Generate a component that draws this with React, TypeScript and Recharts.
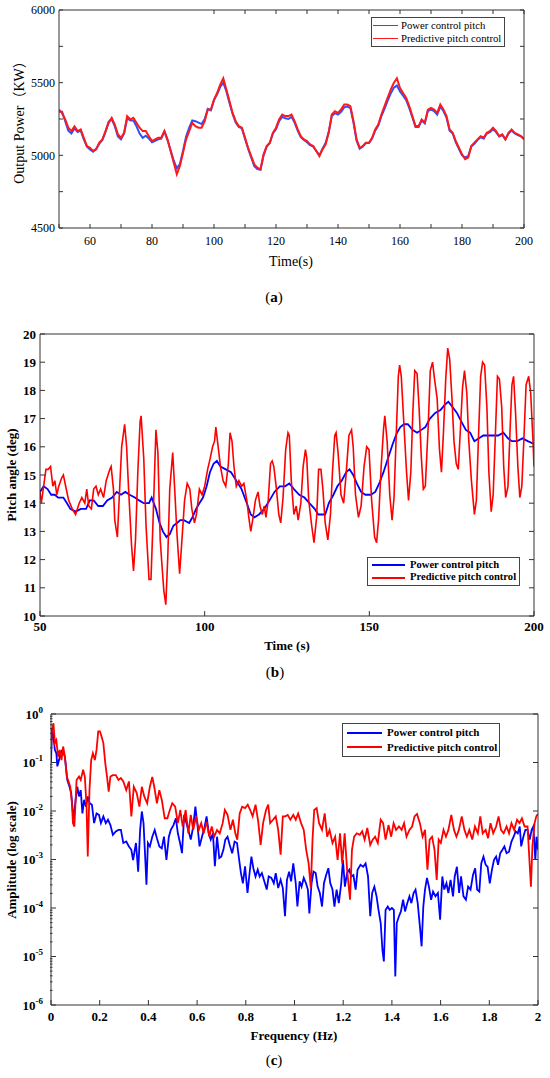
import { CSSProperties, ReactNode } from 'react'
import { Legend, Line, LineChart, XAxis, YAxis } from 'recharts'

// ---- (a) output power ----
const timeA = Array.from({ length: 151 }, (_, i) => 50 + i)
const powerRed = [
  5315, 5290, 5247, 5190, 5167, 5200, 5167, 5178, 5120, 5064,
  5052, 5030, 5041, 5087, 5110, 5167, 5224, 5258, 5212, 5144,
  5121, 5155, 5270, 5247, 5258, 5224, 5190, 5167, 5167, 5132,
  5098, 5110, 5121, 5121, 5167, 5110, 5030, 4950, 4870, 4927,
  5018, 5110, 5167, 5224, 5201, 5190, 5190, 5235, 5315, 5315,
  5384, 5429, 5486, 5530, 5452, 5372, 5292, 5235, 5201, 5190,
  5121, 5052, 4995, 4938, 4915, 4904, 5007, 5064, 5087, 5155,
  5190, 5247, 5281, 5270, 5270, 5281, 5235, 5178, 5132, 5110,
  5098, 5075, 5064, 5030, 4995, 5041, 5075, 5155, 5281, 5304,
  5292, 5315, 5349, 5349, 5338, 5235, 5110, 5052, 5064, 5087,
  5087, 5121, 5178, 5212, 5281, 5338, 5395, 5452, 5498, 5530,
  5463, 5429, 5395, 5338, 5270, 5201, 5201, 5247, 5224, 5315,
  5326, 5315, 5292, 5349, 5315, 5270, 5178, 5155, 5098, 5052,
  5007, 4973, 4984, 5064, 5087, 5110, 5132, 5121, 5155, 5167,
  5190, 5167, 5132, 5144, 5110, 5155, 5178, 5155, 5144, 5132,
  5110,
]
const powerBlue = [
  5300, 5300, 5235, 5170, 5150, 5185, 5160, 5170, 5110, 5060,
  5040, 5025, 5045, 5080, 5105, 5160, 5230, 5250, 5200, 5130,
  5110, 5150, 5255, 5240, 5240, 5200, 5150, 5120, 5135, 5115,
  5090, 5100, 5110, 5115, 5165, 5105, 5035, 4965, 4910, 4940,
  5030, 5130, 5190, 5240, 5235, 5225, 5215, 5250, 5320, 5310,
  5380, 5420, 5470, 5500, 5440, 5360, 5285, 5225, 5195, 5185,
  5115, 5045, 4985, 4925, 4905, 4900, 5000, 5060, 5085, 5150,
  5180, 5235, 5265, 5255, 5250, 5265, 5225, 5170, 5125, 5105,
  5090, 5070, 5060, 5030, 5000, 5045, 5085, 5160, 5270, 5290,
  5280, 5300, 5330, 5335, 5325, 5225, 5100, 5045, 5060, 5085,
  5085, 5115, 5170, 5205, 5270, 5320, 5375, 5425, 5465, 5480,
  5440, 5410, 5380, 5325, 5260, 5195, 5195, 5240, 5220, 5305,
  5315, 5305, 5280, 5335, 5305, 5260, 5170, 5150, 5090, 5045,
  5000, 4985, 4995, 5060, 5080, 5105, 5125, 5115, 5150, 5160,
  5180, 5160, 5130, 5140, 5110, 5150, 5170, 5150, 5140, 5130,
  5115,
]
const ticksAX = [50, 60, 70, 80, 90, 100, 110, 120, 130, 140, 150, 160, 170, 180, 190, 200]
const ticksAY = [4500, 4750, 5000, 5250, 5500, 5750, 6000]

// ---- (b) pitch angle ----
const pitchRedT = [
  50, 50.4, 51.1, 51.8, 52.5, 53.2, 53.9, 54.5, 55.1, 55.7,
  56.6, 57.1, 57.8, 58.7, 59.8, 60.8, 61.9, 62.7, 63.6, 64.2,
  64.8, 65.6, 66.3, 67.0, 67.7, 68.4, 69.3, 70.1, 71.2, 71.6,
  72.3, 72.7, 73.5, 74.3, 74.8, 75.7, 76.3, 76.9, 77.8, 78.4,
  79.0, 79.7, 80.4, 80.7, 81.5, 82.2, 83.1, 83.7, 84.3, 85.2,
  85.8, 86.5, 87.1, 87.6, 88.2, 88.8, 89.4, 90.3, 90.9, 91.6,
  92.4, 93.1, 93.9, 94.7, 95.5, 96.1, 96.9, 97.5, 98.4, 99.2,
  100.0, 100.9, 101.7, 102.4, 103.0, 103.4, 104.1, 104.8, 105.6, 106.4,
  107.2, 107.7, 108.3, 108.9, 109.6, 110.4, 111.2, 111.9, 112.8, 113.4,
  114.0, 114.7, 115.4, 116.2, 116.8, 117.5, 118.1, 118.6, 119.3, 120.0,
  120.5, 121.0, 121.8, 122.5, 123.1, 123.8, 124.6, 125.3, 125.7, 126.3,
  127.1, 127.8, 128.4, 129.2, 129.9, 130.6, 131.0, 131.6, 132.5, 133.2,
  134.0, 134.6, 135.3, 135.9, 136.6, 137.4, 138.2, 138.8, 139.5, 139.9,
  140.5, 141.4, 142.2, 143.0, 143.8, 144.6, 145.1, 145.8, 146.7, 147.5,
  148.4, 149.2, 149.9, 150.7, 151.6, 152.2, 152.8, 153.6, 154.3, 154.7,
  155.4, 156.2, 156.9, 157.5, 158.1, 158.8, 159.2, 159.7, 160.5, 161.3,
  161.9, 162.6, 163.2, 163.8, 164.5, 165.1, 165.8, 166.4, 167.0, 167.9,
  168.5, 169.2, 169.8, 170.6, 171.3, 171.9, 172.5, 173.2, 173.8, 174.4,
  175.1, 175.7, 176.4, 177.0, 177.6, 178.3, 178.9, 179.6, 180.2, 181.0,
  181.9, 182.5, 183.1, 183.8, 184.4, 185.0, 185.7, 186.3, 187.0, 187.6,
  188.2, 188.9, 189.5, 190.2, 190.8, 191.4, 192.1, 192.7, 193.3, 193.8,
  194.4, 195.1, 195.7, 196.3, 196.9, 197.6, 198.4, 199.0, 199.7, 200,
]
const pitchRedV = [
  14.4, 14.0, 14.6, 15.2, 15.2, 15.3, 14.6, 14.8, 14.3, 14.6,
  14.9, 15.0, 14.6, 14.1, 13.8, 13.6, 14.0, 14.2, 14.0, 14.5,
  13.9, 13.8, 14.5, 14.6, 14.3, 14.5, 14.2, 14.8, 15.2, 15.3,
  14.5, 13.4, 12.8, 14.8, 16.0, 16.8, 16.0, 14.5, 12.5, 11.6,
  12.7, 15.1, 16.9, 17.1, 15.6, 13.2, 11.3, 11.3, 13.3, 16.6,
  15.8, 12.7, 11.7, 10.9, 10.4, 12.1, 14.5, 15.8, 14.5, 12.9,
  11.5, 12.7, 14.1, 14.7, 14.5, 13.8, 13.3, 13.6, 14.5, 14.3,
  14.6, 15.2, 15.6, 16.0, 16.2, 16.7, 16.0, 15.3, 14.8, 14.6,
  15.4, 16.5, 16.2, 15.3, 14.6, 14.8, 14.6, 14.7, 14.1, 13.5,
  13.0, 13.5, 14.1, 14.4, 13.9, 13.6, 13.9, 13.5, 14.1, 15.4,
  15.5, 15.3, 14.5, 13.6, 13.3, 14.2, 15.9, 16.5, 16.4, 14.8,
  13.6, 13.9, 13.4, 14.0, 15.3, 15.9, 15.6, 14.1, 13.2, 12.6,
  13.5, 15.2, 15.2, 14.5, 13.3, 12.7, 13.6, 15.1, 16.4, 16.5,
  15.8, 14.3, 14.0, 15.1, 16.4, 16.6, 16.0, 14.3, 13.5, 13.9,
  15.3, 16.0, 15.9, 14.1, 12.8, 12.6, 13.4, 15.3, 16.6, 17.1,
  16.2, 14.3, 13.4, 14.2, 16.2, 18.5, 18.9, 18.5, 16.8, 15.1,
  14.1, 15.1, 17.2, 18.7, 18.6, 17.4, 15.6, 14.5, 14.6, 16.8,
  18.7, 19.0, 18.4, 17.7, 15.9, 15.1, 16.5, 18.4, 19.5, 19.1,
  17.7, 16.2, 15.4, 15.2, 16.5, 18.1, 18.7, 17.9, 16.2, 14.8,
  13.6, 14.1, 16.2, 18.5, 19.0, 18.9, 17.4, 15.1, 13.7, 14.3,
  16.2, 18.5, 18.4, 17.4, 15.3, 14.2, 14.6, 16.5, 18.2, 18.5,
  17.2, 15.3, 14.2, 14.6, 16.2, 18.2, 18.5, 17.9, 16.2, 15.3,
]
const pitchBlueT = [
  50, 51.1, 52.3, 53.4, 54.5, 55.5, 57.1, 58.2, 59.2, 60.8,
  62.4, 64.0, 65.1, 66.3, 67.7, 69.1, 70.4, 71.9, 73.3, 74.6,
  75.9, 77.2, 78.8, 80.1, 81.5, 83.1, 83.9, 85.2, 86.3, 87.3,
  88.4, 89.4, 90.5, 91.6, 92.6, 93.7, 95.3, 96.3, 97.4, 98.4,
  99.5, 100.6, 101.6, 102.7, 103.7, 104.8, 106.4, 108.0, 109.6, 111.2,
  112.8, 114.0, 115.1, 116.5, 118.1, 119.7, 121.2, 122.8, 124.4, 125.7,
  127.1, 128.7, 130.3, 131.8, 133.4, 134.5, 135.5, 136.6, 137.7, 139.1,
  140.3, 141.6, 143.0, 144.0, 145.1, 146.2, 147.5, 148.8, 150.4, 151.8,
  153.0, 154.3, 155.7, 157.1, 158.4, 159.4, 160.5, 161.7, 163.1, 164.5,
  165.8, 167.0, 168.4, 170.0, 171.6, 173.0, 174.0, 175.3, 176.6, 177.9,
  179.3, 180.6, 181.9, 183.3, 184.6, 186.1, 187.5, 189.1, 190.7, 192.1,
  193.3, 194.9, 196.5, 198.1, 200,
]
const pitchBlueV = [
  14.4, 14.6, 14.5, 14.3, 14.3, 14.2, 14.2, 14.0, 13.8, 13.7,
  13.8, 13.8, 14.1, 14.1, 13.9, 13.9, 14.1, 14.2, 14.4, 14.3,
  14.4, 14.3, 14.2, 14.1, 14.0, 14.0, 14.2, 13.8, 13.3, 13.0,
  12.8, 12.9, 13.2, 13.3, 13.4, 13.4, 13.3, 13.5, 13.8, 14.0,
  14.2, 14.6, 15.1, 15.4, 15.5, 15.3, 15.2, 15.1, 14.8, 14.5,
  14.0, 13.6, 13.5, 13.6, 13.8, 14.1, 14.4, 14.6, 14.6, 14.7,
  14.5, 14.3, 14.2, 14.0, 13.8, 13.6, 13.6, 13.6, 14.0, 14.3,
  14.6, 14.8, 15.1, 15.2, 15.0, 14.7, 14.4, 14.3, 14.3, 14.4,
  14.7, 15.1, 15.6, 16.1, 16.5, 16.7, 16.8, 16.8, 16.6, 16.5,
  16.6, 16.7, 17.0, 17.2, 17.3, 17.5, 17.6, 17.4, 17.2, 16.9,
  16.6, 16.5, 16.2, 16.3, 16.4, 16.4, 16.4, 16.4, 16.5, 16.3,
  16.2, 16.2, 16.3, 16.2, 16.1,
]
const ticksBX = [50, 100, 150, 200]
const ticksBY = [10, 11, 12, 13, 14, 15, 16, 17, 18, 19, 20]

// ---- (c) amplitude spectrum, values as log10(amplitude) ----
const specRedF = [
  0, 0.004, 0.01, 0.016, 0.022, 0.029, 0.036, 0.043, 0.05, 0.057,
  0.065, 0.072, 0.079, 0.086, 0.09, 0.096, 0.105, 0.115, 0.122, 0.132,
  0.139, 0.146, 0.151, 0.158, 0.165, 0.172, 0.18, 0.187, 0.194, 0.201,
  0.208, 0.215, 0.223, 0.23, 0.237, 0.244, 0.254, 0.266, 0.277, 0.287,
  0.297, 0.309, 0.32, 0.33, 0.34, 0.352, 0.363, 0.373, 0.383, 0.395,
  0.406, 0.416, 0.424, 0.435, 0.445, 0.455, 0.467, 0.478, 0.488, 0.498,
  0.51, 0.521, 0.531, 0.541, 0.553, 0.564, 0.574, 0.584, 0.596, 0.607,
  0.617, 0.627, 0.639, 0.65, 0.66, 0.67, 0.682, 0.693, 0.705, 0.714,
  0.725, 0.737, 0.747, 0.757, 0.765, 0.775, 0.785, 0.797, 0.808, 0.818,
  0.828, 0.84, 0.851, 0.861, 0.871, 0.883, 0.892, 0.9, 0.912, 0.923,
  0.933, 0.943, 0.952, 0.962, 0.972, 0.983, 0.995, 1.005, 1.015, 1.027,
  1.038, 1.048, 1.058, 1.067, 1.074, 1.081, 1.091, 1.101, 1.113, 1.124,
  1.134, 1.144, 1.156, 1.167, 1.177, 1.187, 1.196, 1.206, 1.216, 1.228,
  1.236, 1.245, 1.256, 1.268, 1.278, 1.288, 1.299, 1.311, 1.321, 1.331,
  1.342, 1.354, 1.364, 1.374, 1.386, 1.397, 1.407, 1.417, 1.429, 1.44,
  1.45, 1.46, 1.472, 1.483, 1.493, 1.503, 1.515, 1.526, 1.536, 1.546,
  1.555, 1.565, 1.575, 1.584, 1.592, 1.601, 1.612, 1.622, 1.632, 1.644,
  1.655, 1.665, 1.675, 1.687, 1.698, 1.708, 1.718, 1.73, 1.741, 1.753,
  1.763, 1.773, 1.785, 1.795, 1.805, 1.816, 1.828, 1.838, 1.848, 1.859,
  1.871, 1.881, 1.891, 1.902, 1.914, 1.924, 1.934, 1.945, 1.957, 1.964,
  1.971, 1.977, 1.986, 1.993, 2,
]
const specRedLog = [
  -0.74, -0.33, -0.19, -0.6, -0.54, -0.88, -0.74, -0.95, -0.67, -0.88,
  -1.29, -1.39, -1.5, -1.84, -2.25, -2.32, -1.36, -1.29, -1.36, -1.15,
  -1.29, -1.91, -2.94, -1.57, -0.95, -0.81, -0.95, -0.74, -0.36, -0.36,
  -0.47, -0.6, -1.02, -1.29, -1.6, -1.29, -1.26, -1.26, -1.36, -1.32,
  -1.39, -1.57, -1.39, -2.11, -1.5, -1.63, -1.91, -1.5, -1.7, -1.84,
  -1.5, -1.3, -1.5, -1.84, -1.57, -1.77, -2.15, -2.15, -1.98, -1.84,
  -1.91, -2.25, -1.98, -2.32, -1.98, -2.46, -2.08, -2.39, -2.11, -2.39,
  -2.25, -2.46, -2.22, -2.53, -2.32, -2.53, -2.39, -2.46, -2.25, -1.98,
  -2.08, -2.39, -2.18, -2.46, -2.59, -2.05, -1.91, -1.94, -1.87, -1.98,
  -2.11, -1.87, -2.22, -2.7, -2.25, -1.98, -1.87, -2.25, -2.18, -2.11,
  -2.39, -2.9, -2.11, -2.11, -2.08, -2.18, -2.08, -2.18, -2.05, -2.25,
  -2.39, -2.8, -3.08, -3.59, -2.59, -1.98, -1.94, -2.25, -2.39, -2.05,
  -2.53, -2.39, -2.66, -2.53, -3.01, -2.46, -3.08, -2.46, -3.21, -3.83,
  -2.8, -2.53, -2.46, -2.49, -2.42, -2.59, -2.35, -2.7, -2.59, -2.53,
  -2.66, -2.18, -2.25, -2.59, -2.29, -2.53, -2.25, -2.39, -2.32, -2.39,
  -2.25, -2.53, -2.39, -2.32, -2.11, -2.06, -2.25, -2.53, -2.39, -3.21,
  -2.59, -2.53, -2.8, -3.42, -2.59, -2.66, -2.39, -2.53, -2.39, -2.08,
  -2.39, -2.53, -2.39, -2.11, -2.39, -2.53, -2.39, -2.59, -2.32, -2.46,
  -2.11, -2.46, -2.39, -2.56, -2.25, -2.46, -2.32, -2.11, -2.39, -2.46,
  -2.32, -2.46, -2.25, -2.39, -2.18, -2.25, -2.15, -2.32, -2.32, -2.94,
  -3.56, -2.73, -2.25, -2.11, -2.06,
]
const specBlueF = [
  0, 0.004, 0.01, 0.016, 0.022, 0.026, 0.033, 0.039, 0.047, 0.057,
  0.067, 0.076, 0.083, 0.089, 0.093, 0.101, 0.108, 0.115, 0.122, 0.129,
  0.136, 0.144, 0.151, 0.159, 0.168, 0.177, 0.187, 0.197, 0.205, 0.215,
  0.225, 0.234, 0.244, 0.254, 0.266, 0.277, 0.287, 0.297, 0.309, 0.32,
  0.33, 0.337, 0.349, 0.358, 0.366, 0.373, 0.38, 0.388, 0.392, 0.398,
  0.406, 0.416, 0.426, 0.435, 0.445, 0.455, 0.464, 0.474, 0.484, 0.492,
  0.503, 0.513, 0.521, 0.53, 0.538, 0.547, 0.556, 0.564, 0.574, 0.584,
  0.593, 0.602, 0.61, 0.62, 0.63, 0.639, 0.648, 0.656, 0.665, 0.673,
  0.682, 0.691, 0.699, 0.708, 0.716, 0.725, 0.734, 0.744, 0.754, 0.764,
  0.771, 0.78, 0.788, 0.797, 0.807, 0.814, 0.823, 0.831, 0.84, 0.849,
  0.857, 0.866, 0.876, 0.886, 0.894, 0.905, 0.915, 0.923, 0.933, 0.943,
  0.952, 0.961, 0.969, 0.978, 0.986, 0.995, 1.005, 1.012, 1.021, 1.029,
  1.038, 1.047, 1.055, 1.061, 1.07, 1.078, 1.087, 1.095, 1.104, 1.113,
  1.121, 1.13, 1.139, 1.147, 1.156, 1.164, 1.173, 1.182, 1.192, 1.199,
  1.207, 1.216, 1.225, 1.233, 1.242, 1.251, 1.259, 1.271, 1.282, 1.292,
  1.302, 1.311, 1.319, 1.328, 1.337, 1.345, 1.354, 1.361, 1.367, 1.374,
  1.383, 1.391, 1.4, 1.408, 1.414, 1.42, 1.429, 1.437, 1.446, 1.454,
  1.463, 1.472, 1.48, 1.489, 1.497, 1.506, 1.515, 1.522, 1.529, 1.536,
  1.544, 1.552, 1.561, 1.569, 1.579, 1.589, 1.598, 1.607, 1.615, 1.624,
  1.632, 1.641, 1.651, 1.658, 1.667, 1.676, 1.684, 1.694, 1.704, 1.713,
  1.723, 1.733, 1.742, 1.75, 1.759, 1.767, 1.776, 1.785, 1.793, 1.802,
  1.811, 1.819, 1.828, 1.836, 1.845, 1.854, 1.862, 1.871, 1.881, 1.891,
  1.9, 1.908, 1.917, 1.925, 1.931, 1.94, 1.948, 1.957, 1.966, 1.974,
  1.981, 1.989, 1.994, 2,
]
const specBlueLog = [
  -1.02, -0.3, -0.47, -0.74, -0.81, -1.08, -0.95, -0.81, -0.74, -0.88,
  -1.36, -1.5, -1.63, -1.98, -2.18, -1.77, -1.5, -1.7, -1.57, -2.05,
  -1.77, -1.91, -1.7, -1.84, -1.87, -2.25, -2.05, -2.08, -2.25, -2.11,
  -2.25, -2.18, -2.29, -2.49, -2.42, -2.39, -2.39, -2.66, -2.63, -2.73,
  -2.8, -3.01, -2.66, -3.25, -2.39, -2.01, -2.25, -3.08, -3.52, -2.66,
  -2.73, -2.53, -2.39, -2.56, -2.73, -2.77, -2.53, -3.01, -2.53, -2.39,
  -2.29, -2.15, -2.46, -2.66, -2.87, -2.08, -2.25, -2.39, -2.59, -2.32,
  -1.91, -2.32, -2.73, -2.53, -2.35, -2.11, -2.46, -2.59, -2.46, -3.14,
  -2.53, -2.97, -2.94, -2.8, -2.59, -2.53, -2.7, -2.87, -2.63, -2.66,
  -2.94, -3.28, -3.49, -3.14, -3.69, -3.35, -2.94, -3.18, -3.35, -3.21,
  -3.35, -3.28, -3.45, -3.62, -3.35, -3.38, -3.49, -3.28, -3.59, -3.42,
  -3.59, -4.17, -3.42, -3.25, -3.45, -3.08, -3.49, -3.97, -3.45, -3.56,
  -3.38, -3.49, -3.62, -4.11, -3.49, -3.25, -3.28, -3.56, -3.69, -3.97,
  -3.49, -3.32, -3.18, -3.49, -3.62, -3.97, -3.62, -3.9, -3.49, -3.01,
  -3.56, -3.28, -3.21, -3.35, -3.32, -3.62, -3.21, -3.11, -3.15, -3.08,
  -3.35, -4.17, -3.69, -3.56, -3.76, -4.04, -4.31, -4.86, -5.1, -4.04,
  -3.97, -4.04, -4.0, -4.04, -5.41, -4.31, -4.17, -4.07, -3.83, -4.07,
  -3.9, -3.76, -3.9, -3.69, -3.62, -3.9, -4.38, -4.79, -3.97, -3.62,
  -3.38, -3.56, -3.83, -3.66, -3.76, -3.69, -4.24, -3.35, -3.62, -3.49,
  -3.69, -3.42, -3.76, -3.35, -3.15, -3.69, -3.35, -3.76, -3.83, -3.56,
  -3.62, -3.32, -3.18, -3.62, -3.66, -3.08, -2.94, -3.11, -3.15, -3.49,
  -3.21, -3.01, -2.94, -3.11, -2.87, -2.8, -2.73, -2.87, -2.84, -2.63,
  -2.53, -2.42, -2.46, -2.32, -2.73, -2.53, -2.39, -2.39, -2.59, -2.39,
  -2.32, -3.01, -2.53, -2.8,
]
const ticksCX = [0, 0.2, 0.4, 0.6, 0.8, 1, 1.2, 1.4, 1.6, 1.8, 2]
const ticksCY = [1e-6, 1e-5, 1e-4, 1e-3, 1e-2, 1e-1, 1]
const ticksCYMinor: number[] = []
ticksCY.slice(0, -1).forEach(d => {
  for (let k = 2; k < 10; k++) ticksCYMinor.push(d * k)
})

const seriesNames = ['Power control pitch', 'Predictive pitch control']

const powerData = timeA.map((t, i) => ({ t, blue: powerBlue[i], red: powerRed[i] }))
const zip = (xs: number[], ys: number[]) => xs.map((x, i) => ({ x, y: ys[i] }))
const pitchRed = zip(pitchRedT, pitchRedV)
const pitchBlue = zip(pitchBlueT, pitchBlueV)
const specRed = specRedF.map((x, i) => ({ x, y: Math.pow(10, specRedLog[i]) }))
const specBlue = specBlueF.map((x, i) => ({ x, y: Math.pow(10, specBlueLog[i]) }))

const SERIF = '"Liberation Serif", "Times New Roman", "Noto Sans CJK SC", serif'
const FRAME = '#333'

const Txt = ({ x, y, size, bold, rotate, children }: { x: number; y: number; size: number; bold?: boolean; rotate?: boolean; children: ReactNode }) => {
  const style: CSSProperties = {
    position: 'absolute', left: x, top: y, whiteSpace: 'nowrap', fontFamily: SERIF, fontSize: size,
    fontWeight: bold ? 700 : 400, color: '#000', lineHeight: 1,
    transform: `translate(-50%, -50%)${rotate ? ' rotate(-90deg)' : ''}`,
  }
  return <div style={style}>{children}</div>
}

const LegendBox = ({ colors, bold, size, lineW, lineLen, gap, pad }: { colors: string[]; bold: boolean; size: number; lineW: number; lineLen: number; gap: number; pad: number }) => (
  <div style={{
    boxSizing: 'border-box', width: '100%', height: '100%', border: '1px solid #444', background: '#fff',
    display: 'flex', flexDirection: 'column', justifyContent: 'space-evenly', paddingLeft: pad,
    fontFamily: SERIF, fontWeight: bold ? 700 : 400, fontSize: size, color: '#000', lineHeight: 1,
  }}>
    {seriesNames.map((name, i) => (
      <div key={name} style={{ display: 'flex', alignItems: 'center', whiteSpace: 'nowrap' }}>
        <span style={{ flex: 'none', width: lineLen, height: 0, borderTop: `${lineW}px solid ${colors[i]}`, marginRight: gap }} />
        {name}
      </div>
    ))}
  </div>
)

const blank = () => ''

const PowTick = (props: any) => {
  const { x, y, payload } = props
  const e = Math.round(Math.log10(payload.value))
  return (
    <text x={x} y={y} textAnchor="end" dy="0.36em" fontFamily={SERIF} fontWeight={700} fontSize={13} fill="#000">
      <tspan>10</tspan>
      <tspan dy={-6} fontSize={9}>{e}</tspan>
    </text>
  )
}

// axes get a 1px size (a zero size hides them); margins below are reduced by 1 to keep the plot box
const ChartA = () => {
  const tick = { fill: '#000', fontSize: 12, fontFamily: SERIF }
  const colors = ['#2f50ff', '#ff1a1a']
  return (
    <LineChart width={550} height={300} data={powerData} margin={{ top: 9, right: 25, bottom: 71, left: 58 }}>
      <XAxis dataKey="t" type="number" domain={[50, 200]} allowDataOverflow ticks={ticksAX} interval={0} height={1}
        stroke={FRAME} tickSize={-4} tickMargin={12} tick={tick}
        tickFormatter={(v: number) => (v % 20 === 0 && v !== 50 ? String(v) : '')} />
      <XAxis xAxisId="top" orientation="top" type="number" domain={[50, 200]} allowDataOverflow ticks={ticksAX} interval={0}
        height={1} stroke={FRAME} tickSize={-4} tickFormatter={blank} />
      <YAxis type="number" domain={[4500, 6000]} allowDataOverflow ticks={ticksAY} interval={0} width={1}
        stroke={FRAME} tickSize={-4} tickMargin={8} tick={tick}
        tickFormatter={(v: number) => (v % 500 === 0 ? String(v) : '')} />
      <YAxis yAxisId="right" orientation="right" type="number" domain={[4500, 6000]} allowDataOverflow ticks={ticksAY}
        interval={0} width={1} stroke={FRAME} tickSize={-4} tickFormatter={blank} />
      <Line dataKey="blue" name={seriesNames[0]} stroke={colors[0]} strokeWidth={2} dot={false} isAnimationActive={false} />
      <Line dataKey="red" name={seriesNames[1]} stroke={colors[1]} strokeWidth={2} dot={false} isAnimationActive={false} />
      <Legend layout="vertical" align="center" verticalAlign="middle"
        wrapperStyle={{ left: 371, top: 17, width: 134, height: 30 }}
        content={() => <LegendBox colors={colors} bold={false} size={10.7} lineW={1} lineLen={25} gap={3} pad={1} />} />
    </LineChart>
  )
}

const ChartB = () => {
  const tick = { fill: '#000', fontSize: 13, fontFamily: SERIF, fontWeight: 700 }
  const colors = ['#0000ff', '#ff0000']
  return (
    <LineChart width={550} height={330} margin={{ top: 23, right: 15, bottom: 23, left: 39 }}>
      <XAxis dataKey="x" type="number" domain={[50, 200]} allowDataOverflow ticks={ticksBX} interval={0} height={1}
        stroke={FRAME} tickSize={-5} tickMargin={11} tick={tick} />
      <XAxis xAxisId="top" orientation="top" type="number" domain={[50, 200]} allowDataOverflow ticks={ticksBX} interval={0}
        height={1} stroke={FRAME} tickSize={-5} tickFormatter={blank} />
      <YAxis type="number" domain={[10, 20]} allowDataOverflow ticks={ticksBY} interval={0} width={1}
        stroke={FRAME} tickSize={-5} tickMargin={9} tick={tick} />
      <YAxis yAxisId="right" orientation="right" type="number" domain={[10, 20]} allowDataOverflow ticks={ticksBY}
        interval={0} width={1} stroke={FRAME} tickSize={-5} tickFormatter={blank} />
      <Line data={pitchBlue} dataKey="y" name={seriesNames[0]} stroke={colors[0]} strokeWidth={1.8} dot={false} isAnimationActive={false} />
      <Line data={pitchRed} dataKey="y" name={seriesNames[1]} stroke={colors[1]} strokeWidth={1.6} dot={false} isAnimationActive={false} />
      <Legend layout="vertical" align="center" verticalAlign="middle"
        wrapperStyle={{ left: 367, top: 247, width: 153, height: 29 }}
        content={() => <LegendBox colors={colors} bold size={10.6} lineW={2} lineLen={33} gap={5} pad={4} />} />
    </LineChart>
  )
}

const ChartC = () => {
  const tick = { fill: '#000', fontSize: 13, fontFamily: SERIF, fontWeight: 700 }
  const colors = ['#0000ff', '#ff0000']
  return (
    <LineChart width={550} height={388} margin={{ top: 23, right: 11, bottom: 72, left: 49 }}>
      <XAxis dataKey="x" type="number" domain={[0, 2]} allowDataOverflow ticks={ticksCX} interval={0} height={1}
        stroke={FRAME} tickSize={-5} tickMargin={12} tick={tick} />
      <XAxis xAxisId="top" orientation="top" type="number" domain={[0, 2]} allowDataOverflow ticks={ticksCX} interval={0}
        height={1} stroke={FRAME} tickSize={-5} tickFormatter={blank} />
      <YAxis type="number" scale="log" domain={[1e-6, 1]} allowDataOverflow ticks={ticksCY} interval={0} width={1}
        stroke={FRAME} tickSize={-5} tickMargin={13} tick={PowTick} />
      <YAxis yAxisId="minor" type="number" scale="log" domain={[1e-6, 1]} allowDataOverflow ticks={ticksCYMinor}
        interval={0} width={1} axisLine={false} stroke={FRAME} tickSize={-2.5} tickFormatter={blank} />
      <YAxis yAxisId="right" orientation="right" type="number" scale="log" domain={[1e-6, 1]} allowDataOverflow
        ticks={ticksCY} interval={0} width={1} stroke={FRAME} tickSize={-5} tickFormatter={blank} />
      <Line data={specBlue} dataKey="y" name={seriesNames[0]} stroke={colors[0]} strokeWidth={1.8} dot={false} isAnimationActive={false} />
      <Line data={specRed} dataKey="y" name={seriesNames[1]} stroke={colors[1]} strokeWidth={1.8} dot={false} isAnimationActive={false} />
      <Legend layout="vertical" align="center" verticalAlign="middle"
        wrapperStyle={{ left: 342, top: 33, width: 158, height: 34 }}
        content={() => <LegendBox colors={colors} bold size={11} lineW={2} lineLen={35} gap={5} pad={4} />} />
    </LineChart>
  )
}

const Caption = ({ x, y, letter }: { x: number; y: number; letter: string }) => (
  <Txt x={x} y={y} size={15}>(<b>{letter}</b>)</Txt>
)

export default function App() {
  return (
    <div style={{ position: 'absolute', left: 0, top: 0, width: 550, height: 1078, background: '#fff', overflow: 'hidden' }}>
      <div style={{ position: 'absolute', left: 0, top: 0 }}><ChartA /></div>
      <div style={{ position: 'absolute', left: 0, top: 310 }}><ChartB /></div>
      <div style={{ position: 'absolute', left: 0, top: 690 }}><ChartC /></div>

      <Txt x={20} y={119} size={14} rotate>Output Power（KW）</Txt>
      <Txt x={291} y={262} size={14}>Time(s)</Txt>
      <Caption x={274} y={297} letter="a" />

      <Txt x={11} y={475} size={13} bold rotate>Pitch angle (deg)</Txt>
      <Txt x={287} y={645} size={13} bold>Time (s)</Txt>
      <Caption x={275} y={672} letter="b" />

      <Txt x={11} y={860} size={13} bold rotate>Amplitude (log scale)</Txt>
      <Txt x={294} y={1035} size={13} bold>Frequency (Hz)</Txt>
      <Caption x={274} y={1060} letter="c" />
    </div>
  )
}
